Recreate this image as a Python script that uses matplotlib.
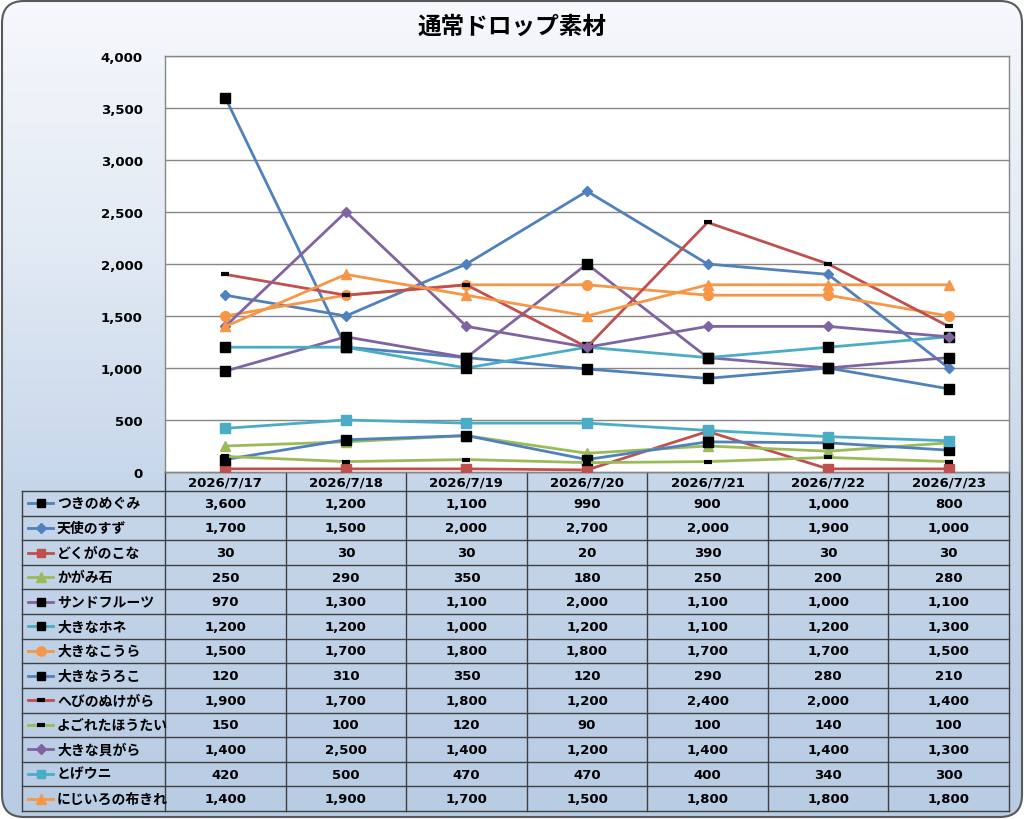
import matplotlib
matplotlib.use("Agg")
import matplotlib.pyplot as plt
import numpy as np
from matplotlib.patches import FancyBboxPatch
from matplotlib.colors import LinearSegmentedColormap
from matplotlib.ticker import FuncFormatter, MultipleLocator

plt.rcParams['font.family'] = ['Noto Sans CJK JP', 'DejaVu Sans']
NUMFONT = ['DejaVu Sans']

title = "通常ドロップ素材"
dates = ["2026/7/17", "2026/7/18", "2026/7/19", "2026/7/20", "2026/7/21", "2026/7/22", "2026/7/23"]
names = ["つきのめぐみ", "天使のすず", "どくがのこな", "かがみ石", "サンドフルーツ", "大きなホネ",
         "大きなこうら", "大きなうろこ", "へびのぬけがら", "よごれたほうたい", "大きな貝がら",
         "とげウニ", "にじいろの布きれ"]
tsukinomegumi = [3600, 1200, 1100, 990, 900, 1000, 800]
tenshinosuzu = [1700, 1500, 2000, 2700, 2000, 1900, 1000]
dokuganokona = [30, 30, 30, 20, 390, 30, 30]
kagamiishi = [250, 290, 350, 180, 250, 200, 280]
sandfruits = [970, 1300, 1100, 2000, 1100, 1000, 1100]
ookinahone = [1200, 1200, 1000, 1200, 1100, 1200, 1300]
ookinakoura = [1500, 1700, 1800, 1800, 1700, 1700, 1500]
ookinauroko = [120, 310, 350, 120, 290, 280, 210]
hebinonukegara = [1900, 1700, 1800, 1200, 2400, 2000, 1400]
yogoretahoutai = [150, 100, 120, 90, 100, 140, 100]
ookinakaigara = [1400, 2500, 1400, 1200, 1400, 1400, 1300]
togeuni = [420, 500, 470, 470, 400, 340, 300]
nijiironofukire = [1400, 1900, 1700, 1500, 1800, 1800, 1800]

series = [tsukinomegumi, tenshinosuzu, dokuganokona, kagamiishi, sandfruits, ookinahone,
          ookinakoura, ookinauroko, hebinonukegara, yogoretahoutai, ookinakaigara,
          togeuni, nijiironofukire]

BLUE, RED, GREEN, PURPLE, CYAN, ORANGE = "#4F81BD", "#C0504D", "#9BBB59", "#8064A2", "#4BACC6", "#F79646"
K = "#000000"
# (line colour, marker, marker colour, marker size)
styles = [
    (BLUE, 's', K, 6.5),
    (BLUE, 'D', BLUE, 5),
    (RED, 's', RED, 6.5),
    (GREEN, '^', GREEN, 7),
    (PURPLE, 's', K, 6.5),
    (CYAN, 's', K, 6.5),
    (ORANGE, 'o', ORANGE, 7),
    (BLUE, 's', K, 6.5),
    (RED, '_', K, 6),
    (GREEN, '_', K, 6),
    (PURPLE, 'D', PURPLE, 5),
    (CYAN, 's', CYAN, 6.5),
    (ORANGE, '^', ORANGE, 7),
]

W, H = 1024, 820
fig = plt.figure(figsize=(W / 100, H / 100), dpi=100)

def fx(x):
    return x / W

def fy(y):
    return 1 - y / H

# background gradient with rounded border
bg = fig.add_axes([0, 0, 1, 1])
bg.set_xlim(0, W)
bg.set_ylim(H, 0)
bg.axis('off')
cmap = LinearSegmentedColormap.from_list(
    "g", [(0.0, "#F6F8FC"), (0.3, "#E2EAF4"), (0.6, "#C6D6EA"), (1.0, "#B8CCE4")])
grad = np.linspace(0, 1, 256).reshape(-1, 1)
im = bg.imshow(grad, extent=[0, W, H, 0], aspect='auto', cmap=cmap, zorder=0)
border = FancyBboxPatch((2, 2), W - 4, H - 4, boxstyle="round,pad=0,rounding_size=22",
                        fc='none', ec='#595959', lw=1.5, zorder=2)
bg.add_patch(border)
im.set_clip_path(border)

# plot area
PL, PR, PT, PB = 165, 1009, 57, 473
ax = fig.add_axes([fx(PL), fy(PB), fx(PR - PL), (PB - PT) / H])
ax.set_facecolor('white')
x = np.arange(len(dates))
for vals, (lc, mk, mc, ms) in zip(series, styles):
    if mk == '_':
        ax.plot(x, vals, color=lc, lw=2, marker=mk, ms=ms, mec=mc, mew=3, zorder=3)
    else:
        ax.plot(x, vals, color=lc, lw=2, marker=mk, ms=ms, mfc=mc, mec=mc, zorder=3)
ax.set_xlim(-0.5, len(dates) - 0.5)
ax.set_ylim(0, 4000)
ax.yaxis.set_major_locator(MultipleLocator(500))
ax.yaxis.set_major_formatter(FuncFormatter(lambda v, p: f"{int(v):,}"))
ax.set_xticks([])
ax.tick_params(axis='y', length=0, pad=16)
for lab in ax.get_yticklabels():
    lab.set_fontweight('bold')
    lab.set_family(NUMFONT)
    lab.set_fontsize(9.5)
ax.grid(axis='y', color='#868686', lw=1)
ax.set_axisbelow(True)
for s in ax.spines.values():
    s.set_color('#868686')
    s.set_linewidth(1)

fig.text(0.5, fy(27), title, ha='center', va='center', fontsize=17, fontweight='bold')

# data table
TL = 22
HB = 492
n = len(names)
RH = (812 - HB) / n
colw = (PR - PL) / len(dates)
lc_t = '#3F3F3F'
tab = bg
for j in range(len(dates) + 1):
    xx = PL + j * colw
    tab.plot([xx, xx], [PB, 812], color=lc_t, lw=1, zorder=3)
for j, d in enumerate(dates):
    tab.text(PL + (j + 0.5) * colw, (PB + HB) / 2 + 1, d, ha='center', va='center',
             fontsize=9.5, fontweight='bold', family=NUMFONT, zorder=4)
tab.plot([TL, TL], [HB, 812], color=lc_t, lw=1, zorder=3)
tab.plot([PL, PR], [PB, PB], color=lc_t, lw=1, zorder=3)
for i in range(n + 1):
    yy = HB + i * RH
    tab.plot([TL, PR], [yy, yy], color=lc_t, lw=1, zorder=3)
for i, (nm, vals, (lc, mk, mc, ms)) in enumerate(zip(names, series, styles)):
    yc = HB + (i + 0.5) * RH
    tab.plot([28, 53], [yc, yc], color=lc, lw=2, zorder=4)
    if mk == '_':
        tab.plot([40.5], [yc], marker=mk, ms=ms, mec=mc, mew=3, zorder=5)
    else:
        tab.plot([40.5], [yc], marker=mk, ms=ms * 0.95, mfc=mc, mec=mc, zorder=5)
    tab.text(57, yc, nm, ha='left', va='center', fontsize=10, fontweight='bold', zorder=4)
    for j, v in enumerate(vals):
        tab.text(PL + (j + 0.5) * colw, yc, f"{v:,}", ha='center', va='center',
                 fontsize=9.5, fontweight='bold', family=NUMFONT, zorder=4)

fig.savefig("out.png", dpi=100, facecolor='white')
